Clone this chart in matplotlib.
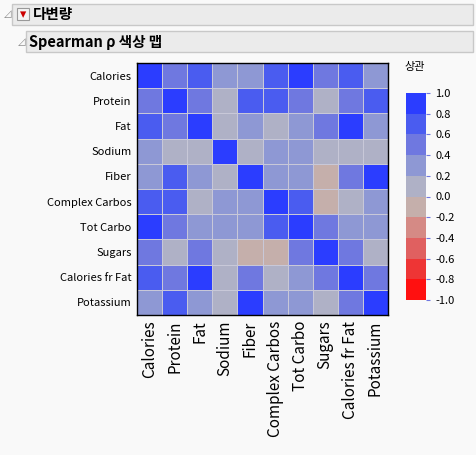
import matplotlib
matplotlib.use('Agg')
import matplotlib.pyplot as plt
from matplotlib.colors import ListedColormap, BoundaryNorm
from matplotlib.patches import Rectangle
import numpy as np

plt.rcParams['font.family'] = ['Noto Sans CJK KR', 'DejaVu Sans']

names = ['Calories', 'Protein', 'Fat', 'Sodium', 'Fiber', 'Complex Carbos',
         'Tot Carbo', 'Sugars', 'Calories fr Fat', 'Potassium']

# estimated Spearman correlations (read from colour bins)
rho = np.array([
    [1.00, 0.50, 0.70, 0.30, 0.30, 0.70, 0.90, 0.50, 0.70, 0.30],
    [0.50, 1.00, 0.50, 0.10, 0.70, 0.70, 0.50, 0.10, 0.50, 0.70],
    [0.70, 0.50, 1.00, 0.10, 0.30, 0.10, 0.30, 0.50, 0.90, 0.30],
    [0.30, 0.10, 0.10, 1.00, 0.10, 0.30, 0.30, 0.10, 0.10, 0.10],
    [0.30, 0.70, 0.30, 0.10, 1.00, 0.30, 0.30, -0.10, 0.50, 0.90],
    [0.70, 0.70, 0.10, 0.30, 0.30, 1.00, 0.70, -0.10, 0.10, 0.30],
    [0.90, 0.50, 0.30, 0.30, 0.30, 0.70, 1.00, 0.50, 0.30, 0.30],
    [0.50, 0.10, 0.50, 0.10, -0.10, -0.10, 0.50, 1.00, 0.50, 0.10],
    [0.70, 0.50, 0.90, 0.10, 0.50, 0.10, 0.30, 0.50, 1.00, 0.50],
    [0.30, 0.70, 0.30, 0.10, 0.90, 0.30, 0.30, 0.10, 0.50, 1.00],
])

bin_colors = ['#FF1010', '#EE3535', '#E06060', '#D58A85', '#C5AFAB',
              '#AFB1C6', '#8E98D4', '#6F78E0', '#4A5CF0', '#2B3DFF']
bounds = np.linspace(-1, 1, 11)
cmap = ListedColormap(bin_colors)
norm = BoundaryNorm(bounds, cmap.N)

W, H = 477, 455
fig = plt.figure(figsize=(W / 100, H / 100), dpi=100, facecolor='#F9F9F9')

def box(x0, y0, x1, y1):
    fig.patches.append(Rectangle((x0 / W, 1 - y1 / H), (x1 - x0) / W, (y1 - y0) / H,
                                 transform=fig.transFigure, facecolor='#EBEBEB',
                                 edgecolor='#C8C8C8', lw=1))

box(12, 4, 473, 25)
box(26, 31, 473, 52)
fig.text(4 / W, 1 - 14 / H, '◿', fontsize=7, color='#888888', va='center', family=['DejaVu Sans'])
fig.patches.append(Rectangle((17 / W, 1 - 20 / H), 12 / W, 12 / H, transform=fig.transFigure,
                             facecolor='#F4F4F4', edgecolor='#999999', lw=0.8))
fig.text(23 / W, 1 - 14.5 / H, '▾', fontsize=9, color='#CC0000', va='center', ha='center',
         family=['DejaVu Sans'])
fig.text(33 / W, 1 - 14 / H, '다변량', fontsize=10.5, fontweight='bold', va='center')
fig.text(18 / W, 1 - 42 / H, '◿', fontsize=7, color='#888888', va='center', family=['DejaVu Sans'])
fig.text(29 / W, 1 - 42 / H, 'Spearman ρ 색상 맵', fontsize=10.5, fontweight='bold', va='center')

ax = fig.add_axes([137 / W, 1 - 315 / H, 251 / W, 252 / H])
n = len(names)
ax.pcolormesh(np.arange(n + 1), np.arange(n + 1), rho, cmap=cmap, norm=norm,
              edgecolors='#C8C8D8', linewidth=0.6)
ax.set_xlim(0, n)
ax.set_ylim(n, 0)
ax.set_xticks(np.arange(n) + 0.5)
ax.set_xticklabels(names, rotation=90, fontsize=11)
ax.set_yticks(np.arange(n) + 0.5)
ax.set_yticklabels(names, fontsize=8)
ax.tick_params(length=0, pad=4)
for s in ax.spines.values():
    s.set_linewidth(1)

cax = fig.add_axes([406 / W, 1 - 300 / H, 20 / W, 207 / H])
cb = fig.colorbar(plt.cm.ScalarMappable(norm=norm, cmap=cmap), cax=cax,
                  ticks=bounds, boundaries=bounds)
cb.outline.set_visible(False)
cb.ax.set_yticklabels([f'{b:.1f}' for b in bounds], fontsize=8)
cb.ax.tick_params(length=3, color='#6F78E0')
fig.text(404 / W, 1 - 70 / H, '상관', fontsize=8)

fig.savefig('out.png', dpi=100, facecolor=fig.get_facecolor())
